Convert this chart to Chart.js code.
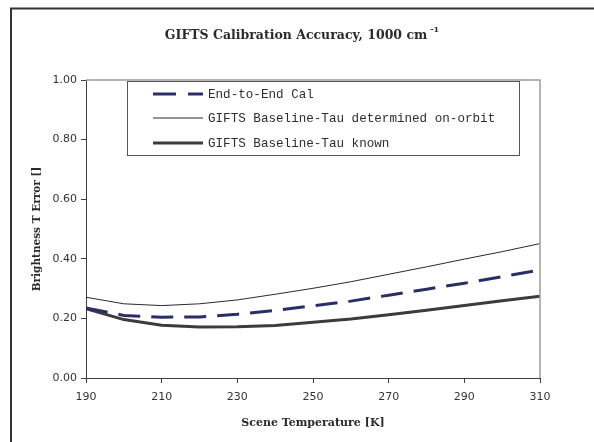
<!DOCTYPE html>
<html>
<head>
<meta charset="utf-8">
<script src="https://cdn.jsdelivr.net/npm/chart.js@4"></script>
<style>
html,body{margin:0;padding:0;background:#fff;}
#wrap{width:594px;height:442px;position:relative;}
</style>
</head>
<body>
<div id="wrap"><canvas id="c" width="594" height="442"></canvas></div>
<script>
const temperatures = [190, 200, 210, 220, 230, 240, 250, 260, 270, 280, 290, 300, 310];
const endToEndCal = [0.235, 0.210, 0.204, 0.205, 0.214, 0.227, 0.242, 0.258, 0.278, 0.298, 0.318, 0.340, 0.362];
const tauOnOrbit = [0.271, 0.249, 0.243, 0.249, 0.262, 0.281, 0.301, 0.323, 0.348, 0.373, 0.399, 0.424, 0.451];
const tauKnown = [0.233, 0.196, 0.177, 0.171, 0.172, 0.176, 0.187, 0.198, 0.212, 0.227, 0.243, 0.259, 0.274];
const seriesNames = ["End-to-End Cal", "GIFTS Baseline-Tau determined on-orbit", "GIFTS Baseline-Tau known"];
const xTicks = [190, 210, 230, 250, 270, 290, 310];
const yTicks = [0, 0.2, 0.4, 0.6, 0.8, 1.0];
const chartTitle = "GIFTS Calibration Accuracy, 1000 cm";
const chartTitleSup = "-1";
const xTitle = "Scene Temperature [K]";
const yTitle = "Brightness T Error []";

const toPts = (vals) => temperatures.map((t, i) => ({x: t, y: vals[i]}));

const styles = [
  {color: '#2b2e66', width: 3, dash: [22, 11]},
  {color: '#2a2a2a', width: 1, dash: []},
  {color: '#3c3c3c', width: 3, dash: []}
];

const decor = {
  id: 'decor',
  beforeDraw(chart) {
    const ctx = chart.ctx;
    ctx.save();
    ctx.fillStyle = '#fff';
    ctx.fillRect(0, 0, chart.width, chart.height);
    ctx.strokeStyle = '#333';
    ctx.lineWidth = 2;
    ctx.beginPath();
    ctx.moveTo(11, 442);
    ctx.lineTo(11, 8.5);
    ctx.lineTo(594, 8.5);
    ctx.stroke();
    ctx.restore();
  },
  afterDatasetsDraw(chart) {
    const ctx = chart.ctx;
    const a = chart.chartArea;
    ctx.save();
    ctx.strokeStyle = '#a39a9a';
    ctx.lineWidth = 1.5;
    ctx.beginPath();
    ctx.moveTo(a.left, a.top);
    ctx.lineTo(a.right, a.top);
    ctx.lineTo(a.right, a.bottom);
    ctx.stroke();

    const lx = 127, ly = 81, lw = 392, lh = 74;
    ctx.fillStyle = '#fff';
    ctx.fillRect(lx, ly, lw, lh);
    ctx.strokeStyle = '#555';
    ctx.lineWidth = 1;
    ctx.strokeRect(lx + 0.5, ly + 0.5, lw, lh);
    const rows = [94, 118, 143];
    ctx.font = '12.6px "Liberation Mono"';
    ctx.textBaseline = 'middle';
    ctx.textAlign = 'left';
    seriesNames.forEach((name, i) => {
      const s = styles[i];
      ctx.strokeStyle = s.color;
      ctx.lineWidth = s.width;
      ctx.setLineDash(s.dash.length ? [23, 12] : []);
      ctx.beginPath();
      ctx.moveTo(153, rows[i]);
      ctx.lineTo(203, rows[i]);
      ctx.stroke();
      ctx.setLineDash([]);
      ctx.fillStyle = '#2e2e2e';
      ctx.fillText(name, 208, rows[i] + 1);
    });

    ctx.fillStyle = '#2a2a2a';
    ctx.font = 'bold 12.5px "DejaVu Serif"';
    const tw = ctx.measureText(chartTitle).width;
    ctx.font = 'bold 8px "DejaVu Serif"';
    const sw = ctx.measureText(chartTitleSup).width;
    const tx = 302 - (tw + sw + 3) / 2;
    ctx.font = 'bold 12.5px "DejaVu Serif"';
    ctx.textAlign = 'left';
    ctx.fillText(chartTitle, tx, 36);
    ctx.font = 'bold 8px "DejaVu Serif"';
    ctx.fillText(chartTitleSup, tx + tw + 3, 30);

    ctx.font = 'bold 11px "DejaVu Serif"';
    ctx.textAlign = 'center';
    ctx.fillText(xTitle, (a.left + a.right) / 2, 423);
    ctx.font = 'bold 10.5px "DejaVu Serif"';
    ctx.save();
    ctx.translate(37, (a.top + a.bottom) / 2);
    ctx.rotate(-Math.PI / 2);
    ctx.fillText(yTitle, 0, 0);
    ctx.restore();
    ctx.restore();
  }
};

new Chart(document.getElementById('c'), {
  type: 'line',
  data: {
    datasets: [
      {label: seriesNames[0], data: toPts(endToEndCal), borderColor: styles[0].color, borderWidth: styles[0].width, borderDash: styles[0].dash, pointRadius: 0, tension: 0, fill: false},
      {label: seriesNames[1], data: toPts(tauOnOrbit), borderColor: styles[1].color, borderWidth: styles[1].width, pointRadius: 0, tension: 0, fill: false},
      {label: seriesNames[2], data: toPts(tauKnown), borderColor: styles[2].color, borderWidth: styles[2].width, pointRadius: 0, tension: 0, fill: false}
    ]
  },
  options: {
    responsive: false,
    animation: false,
    devicePixelRatio: 1,
    layout: {padding: {left: 0, top: 80, right: 54, bottom: 34}},
    plugins: {legend: {display: false}, title: {display: false}, tooltip: {enabled: false}},
    scales: {
      x: {
        type: 'linear', min: 190, max: 310,
        afterFit(s) { s.height = 30; },
        afterBuildTicks(s) { s.ticks = xTicks.map(v => ({value: v})); },
        grid: {drawOnChartArea: false, drawTicks: true, tickLength: 5, color: '#404040'},
        border: {color: '#404040', width: 1},
        ticks: {color: '#333', font: {family: '"DejaVu Sans"', size: 11}, padding: 8, maxRotation: 0,
          callback: v => String(v)}
      },
      y: {
        min: 0, max: 1,
        afterFit(s) { s.width = 86; },
        afterBuildTicks(s) { s.ticks = yTicks.map(v => ({value: v})); },
        grid: {drawOnChartArea: false, drawTicks: true, tickLength: 5, color: '#404040'},
        border: {color: '#404040', width: 1},
        ticks: {color: '#333', font: {family: '"DejaVu Sans"', size: 11}, padding: 4,
          callback: v => Number(v).toFixed(2)}
      }
    }
  },
  plugins: [decor]
});
</script>
</body>
</html>
